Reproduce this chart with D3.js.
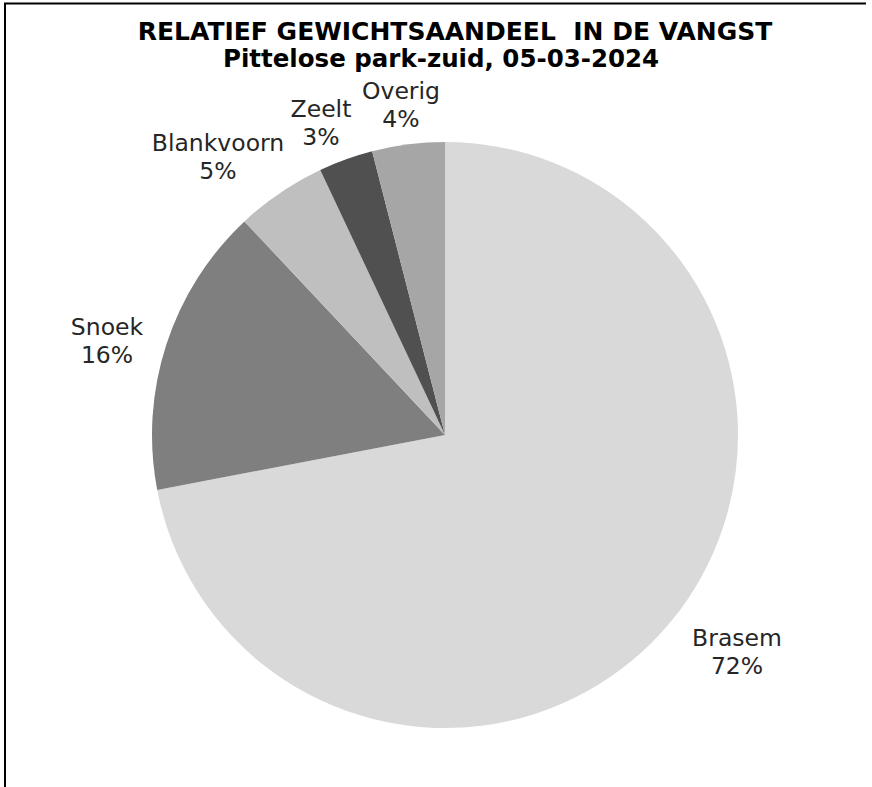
<!DOCTYPE html>
<html>
<head>
<meta charset="utf-8">
<script src="https://cdn.jsdelivr.net/npm/d3@7"></script>
<style>
  html, body { margin: 0; padding: 0; background: #fff; }
  svg { display: block; }
</style>
</head>
<body>
<svg id="chart" width="872" height="787"></svg>
<script>
// Share of total catch weight per species
const species = ["Brasem", "Snoek", "Blankvoorn", "Zeelt", "Overig"];
const shares  = [72, 16, 5, 3, 4];
const fills   = ["#d9d9d9", "#7f7f7f", "#bfbfbf", "#505050", "#a6a6a6"];

const titleText    = "RELATIEF GEWICHTSAANDEEL  IN DE VANGST";
const subtitleText = "Pittelose park-zuid, 05-03-2024";

// Label anchor points (centre of the two-line label), in chart pixels
const labelPos = {
  "Brasem":     [737, 651],
  "Snoek":      [107, 340],
  "Blankvoorn": [218, 156],
  "Zeelt":      [321, 122],
  "Overig":     [401, 104]
};

const svg = d3.select("#chart");
const W = 872, H = 787;
const cx = 445, cy = 435, R = 293;

// outer frame (top and left edges visible)
svg.append("path")
  .attr("d", `M5,${H} L5,3.5 L866,3.5`)
  .attr("fill", "none")
  .attr("stroke", "#000")
  .attr("stroke-width", 2);

// titles
svg.append("text")
  .attr("x", 455).attr("y", 40)
  .attr("text-anchor", "middle")
  .attr("font-family", "'DejaVu Sans', Verdana, sans-serif")
  .attr("font-weight", "bold")
  .attr("font-size", 25)
  .attr("fill", "#000")
  .style("white-space", "pre")
  .text(titleText);

svg.append("text")
  .attr("x", 441).attr("y", 67)
  .attr("text-anchor", "middle")
  .attr("font-family", "'DejaVu Sans', Verdana, sans-serif")
  .attr("font-weight", "bold")
  .attr("font-size", 24.5)
  .attr("fill", "#000")
  .text(subtitleText);

// pie
const data = species.map((s, i) => ({ name: s, value: shares[i], fill: fills[i] }));
const pie = d3.pie().value(d => d.value).sort(null);
const arc = d3.arc().innerRadius(0).outerRadius(R);

const g = svg.append("g").attr("transform", `translate(${cx},${cy})`);
g.selectAll("path.slice")
  .data(pie(data))
  .join("path")
  .attr("class", "slice")
  .attr("d", arc)
  .attr("fill", d => d.data.fill);

// labels: name and percentage on two lines
const lab = svg.append("g")
  .attr("font-family", "'DejaVu Sans', Verdana, sans-serif")
  .attr("font-size", 23.5)
  .attr("fill", "#262626")
  .attr("text-anchor", "middle");

data.forEach(d => {
  const [x, y] = labelPos[d.name];
  const t = lab.append("text").attr("x", x).attr("y", y);
  t.append("tspan").attr("x", x).attr("dy", "-0.2em").text(d.name);
  t.append("tspan").attr("x", x).attr("dy", "1.18em").text(d3.format(".0f")(d.value) + "%");
});
</script>
</body>
</html>
